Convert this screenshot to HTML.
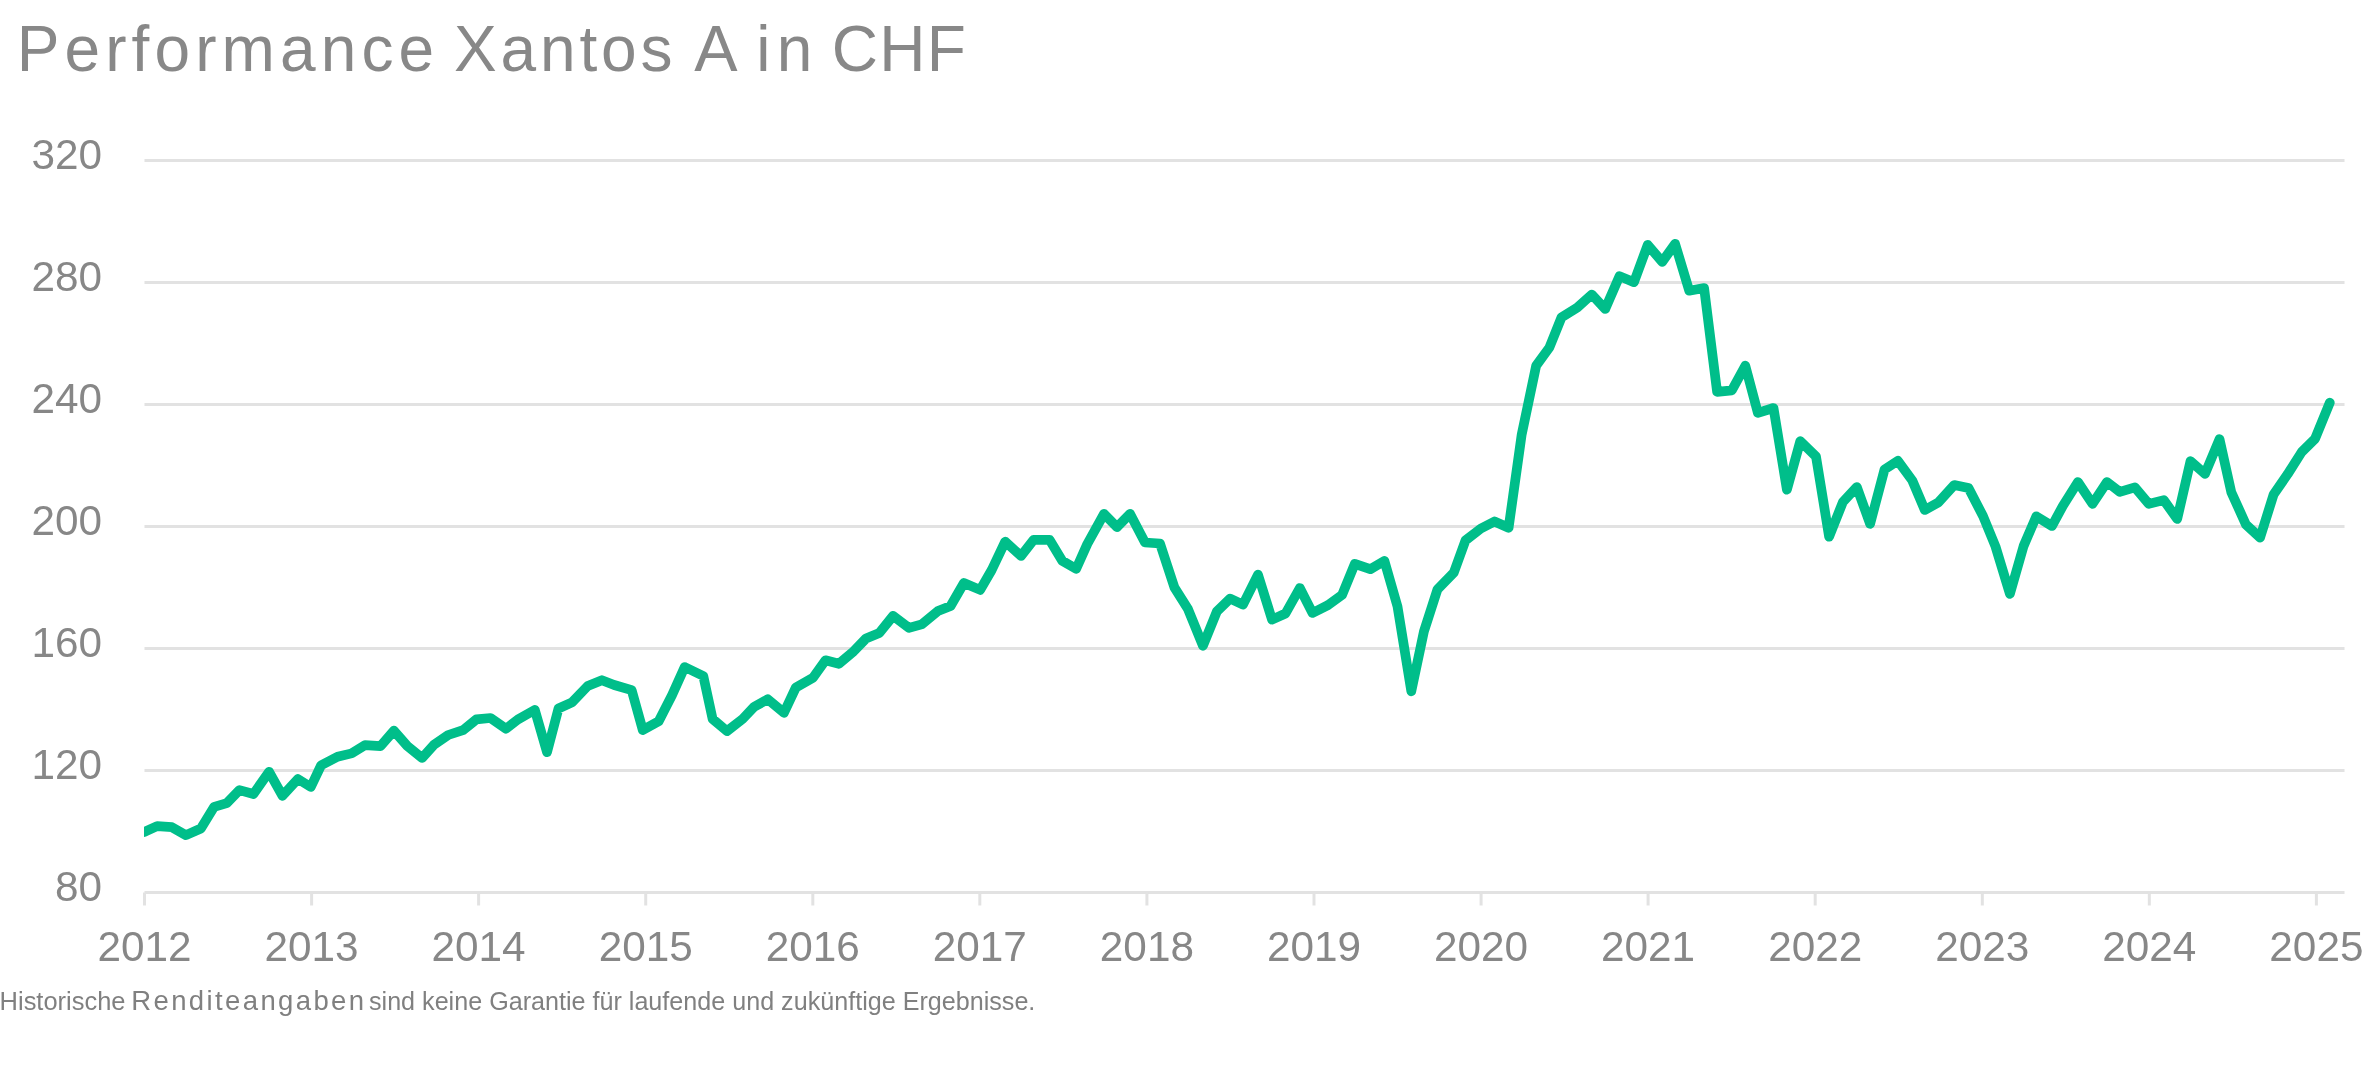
<!DOCTYPE html>
<html><head><meta charset="utf-8"><style>
html,body{margin:0;padding:0;background:#fff;width:2371px;height:1078px;overflow:hidden}
svg{display:block;will-change:transform}
text{font-family:"Liberation Sans",sans-serif;fill:#878787}
</style></head><body>
<svg width="2371" height="1078" viewBox="0 0 2371 1078">
<defs><clipPath id="pc"><rect x="144" y="0" width="2300" height="1078"/></clipPath></defs>
<text x="16.65" y="70.9" font-size="64" textLength="417.48" lengthAdjust="spacing" style="fill:#888888">Performance</text><text x="454.05" y="70.9" font-size="64" textLength="218.52" lengthAdjust="spacing" style="fill:#888888">Xantos</text><text x="694.19" y="70.9" font-size="64" textLength="43.32" lengthAdjust="spacingAndGlyphs" style="fill:#888888">A</text><text x="756.35" y="70.9" font-size="64" textLength="56.04" lengthAdjust="spacing" style="fill:#888888">in</text><text x="831.87" y="70.9" font-size="64" textLength="133.99" lengthAdjust="spacing" style="fill:#888888">CHF</text><text x="-0.41" y="1010.0" font-size="25.3" textLength="125.93" lengthAdjust="spacingAndGlyphs" style="fill:#808080">Historische</text><text x="131.28" y="1010.0" font-size="27.5" textLength="232.74" lengthAdjust="spacing" style="fill:#808080">Renditeangaben</text><text x="369.01" y="1010.0" font-size="25.4" textLength="666.36" lengthAdjust="spacingAndGlyphs" style="fill:#808080">sind keine Garantie für laufende und zukünftige Ergebnisse.</text>
<g stroke="#e2e2e2" stroke-width="3" fill="none"><line x1="144.5" x2="2344.5" y1="160.5" y2="160.5"/><line x1="144.5" x2="2344.5" y1="282.5" y2="282.5"/><line x1="144.5" x2="2344.5" y1="404.5" y2="404.5"/><line x1="144.5" x2="2344.5" y1="526.5" y2="526.5"/><line x1="144.5" x2="2344.5" y1="648.5" y2="648.5"/><line x1="144.5" x2="2344.5" y1="770.5" y2="770.5"/><line x1="144.5" x2="2344.5" y1="892.5" y2="892.5"/><line x1="144.5" x2="144.5" y1="892.5" y2="905.5"/><line x1="311.6" x2="311.6" y1="892.5" y2="905.5"/><line x1="478.6" x2="478.6" y1="892.5" y2="905.5"/><line x1="645.7" x2="645.7" y1="892.5" y2="905.5"/><line x1="812.8" x2="812.8" y1="892.5" y2="905.5"/><line x1="979.8" x2="979.8" y1="892.5" y2="905.5"/><line x1="1146.9" x2="1146.9" y1="892.5" y2="905.5"/><line x1="1314.0" x2="1314.0" y1="892.5" y2="905.5"/><line x1="1481.1" x2="1481.1" y1="892.5" y2="905.5"/><line x1="1648.1" x2="1648.1" y1="892.5" y2="905.5"/><line x1="1815.2" x2="1815.2" y1="892.5" y2="905.5"/><line x1="1982.3" x2="1982.3" y1="892.5" y2="905.5"/><line x1="2149.3" x2="2149.3" y1="892.5" y2="905.5"/><line x1="2316.4" x2="2316.4" y1="892.5" y2="905.5"/></g>
<g font-size="42.3" text-anchor="end"><text x="102" y="169.3">320</text><text x="102" y="291.3">280</text><text x="102" y="413.3">240</text><text x="102" y="535.3">200</text><text x="102" y="657.3">160</text><text x="102" y="779.3">120</text><text x="102" y="901.3">80</text></g>
<g font-size="42.3" text-anchor="middle"><text x="144.5" y="961">2012</text><text x="311.6" y="961">2013</text><text x="478.6" y="961">2014</text><text x="645.7" y="961">2015</text><text x="812.8" y="961">2016</text><text x="979.8" y="961">2017</text><text x="1146.9" y="961">2018</text><text x="1314.0" y="961">2019</text><text x="1481.1" y="961">2020</text><text x="1648.1" y="961">2021</text><text x="1815.2" y="961">2022</text><text x="1982.3" y="961">2023</text><text x="2149.3" y="961">2024</text><text x="2316.4" y="961">2025</text></g>
<polyline clip-path="url(#pc)" points="144.0,832.1 157.1,826.1 171.9,827.2 186.0,835.2 200.9,828.5 214.2,806.8 226.8,803.1 239.4,790.1 253.5,794.0 269.1,771.8 282.5,795.8 297.9,779.0 310.8,787.0 321.2,765.2 337.5,756.7 351.6,753.4 365.0,745.2 380.5,746.1 393.9,730.7 407.3,746.0 422.1,758.0 434.0,744.8 448.2,735.0 463.0,730.2 476.4,719.4 490.5,718.0 506.0,728.8 517.9,719.5 534.8,709.9 547.0,752.2 558.5,708.5 572.0,702.3 587.7,686.0 601.9,680.2 614.2,685.0 631.7,690.2 642.8,730.1 658.7,721.2 672.1,695.0 684.7,667.0 703.3,676.0 712.6,719.0 727.0,731.1 742.6,719.0 754.3,706.7 767.7,699.3 784.0,712.8 795.9,687.4 813.0,677.8 825.5,660.3 838.9,663.8 852.6,652.3 866.0,638.5 879.3,633.0 893.1,615.9 909.0,627.9 921.6,624.4 938.0,611.1 950.6,606.0 963.9,583.0 980.2,589.9 991.7,570.0 1005.2,541.7 1021.0,555.9 1033.5,539.9 1049.7,539.9 1062.2,560.7 1076.2,568.9 1087.3,544.0 1104.0,513.8 1117.0,527.2 1130.0,513.8 1145.0,542.5 1160.0,543.5 1174.5,587.7 1187.9,608.8 1203.0,645.8 1216.8,611.6 1230.2,598.6 1243.0,604.6 1258.0,574.6 1272.0,619.6 1285.5,613.5 1299.8,588.0 1312.5,613.0 1328.0,605.1 1342.1,594.8 1354.8,563.9 1370.3,569.2 1384.4,560.9 1397.5,606.5 1411.3,691.3 1423.9,631.6 1437.5,589.3 1453.8,572.6 1465.5,540.4 1480.9,528.5 1494.5,521.5 1508.6,527.8 1521.7,434.4 1536.2,365.6 1549.4,347.5 1561.5,317.4 1577.2,307.7 1591.8,294.5 1605.2,309.0 1619.5,276.1 1634.0,282.2 1647.7,244.9 1662.2,261.8 1675.1,243.8 1689.2,290.7 1704.1,288.0 1717.1,391.8 1731.9,390.3 1745.3,365.7 1757.9,412.9 1773.5,408.0 1786.9,489.7 1800.3,441.1 1816.0,456.5 1829.1,536.7 1842.9,502.0 1856.8,487.0 1870.1,523.9 1884.5,469.5 1897.9,460.8 1912.3,480.5 1924.8,510.0 1938.3,502.5 1954.2,485.0 1968.5,488.1 1983.0,516.0 1995.5,546.5 2009.9,593.9 2023.6,546.0 2036.3,516.3 2052.0,526.0 2062.8,506.0 2077.9,482.0 2092.5,503.9 2107.0,482.0 2119.8,491.8 2134.9,487.4 2148.8,503.9 2163.8,500.1 2177.2,519.0 2190.5,461.2 2205.0,473.8 2219.5,439.1 2231.3,492.2 2246.0,524.7 2260.1,537.6 2273.6,494.5 2287.7,474.1 2301.7,452.0 2315.1,438.7 2329.8,402.7" fill="none" stroke="#00be8a" stroke-width="9.7" stroke-linejoin="round" stroke-linecap="round"/>

</svg>
</body></html>
